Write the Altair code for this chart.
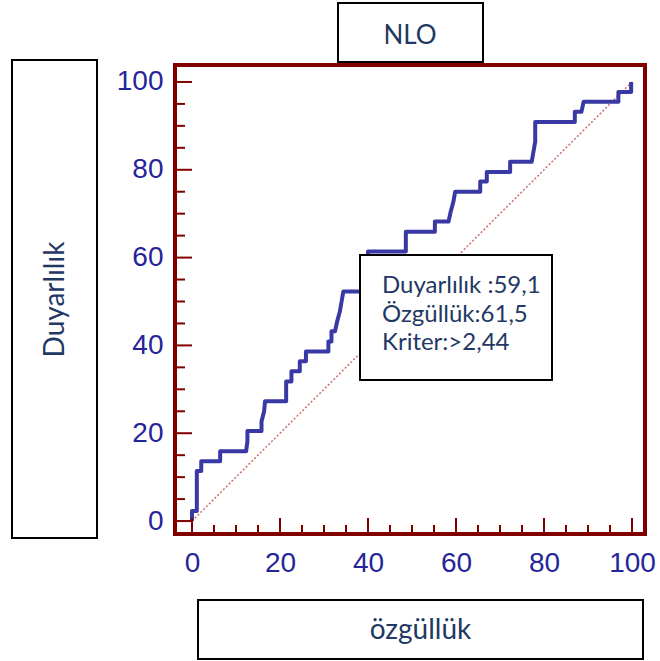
import altair as alt
import pandas as pd

# ROC curve (x = özgüllük axis, y = Duyarlılık)
roc_x = [0, 0, 1.1, 1.1, 2.1, 2.1, 6.4, 6.4, 12.3, 12.6, 12.6, 15.8, 15.8, 16.4, 16.6,
         21.4, 21.4, 22.6, 22.6, 24.5, 24.5, 25.9, 25.9, 31.0, 31.0, 31.7, 31.7, 32.5,
         33.0, 33.6, 34.0, 34.4, 40.0, 40.0, 48.6, 48.6, 55.2, 55.2, 58.3, 58.8, 59.4,
         59.8, 65.5, 65.5, 67.0, 67.0, 72.3, 72.3, 77.2, 77.6, 78.0, 78.0, 87.0, 87.0,
         88.5, 89.0, 96.9, 96.9, 99.8, 99.8]
roc_y = [0, 2.3, 2.3, 11.4, 11.4, 13.6, 13.6, 15.9, 15.9, 18.2, 20.5, 20.5, 22.7, 25.0, 27.3,
         27.3, 31.8, 31.8, 34.1, 34.1, 36.4, 36.4, 38.6, 38.6, 40.9, 40.9, 43.2, 43.2,
         45.5, 47.7, 50.0, 52.3, 52.3, 61.4, 61.4, 65.9, 65.9, 68.2, 68.2, 70.5, 72.7,
         75.0, 75.0, 77.3, 77.3, 79.5, 79.5, 81.8, 81.8, 84.1, 86.4, 90.9, 90.9, 93.2,
         93.2, 95.5, 95.5, 97.7, 97.7, 100]
diag_x = [0, 100]
diag_y = [0, 100]
axis_labels = [0, 20, 40, 60, 80, 100]
minor_ticks = [5, 10, 15, 25, 30, 35, 45, 50, 55, 65, 70, 75, 85, 90, 95]
title_text = "NLO"
x_title = "özgüllük"
y_title = "Duyarlılık"
note_lines = ["Duyarlılık :59,1", "Özgüllük:61,5", "Kriter:>2,44"]

W, H = 470, 469
FRAME = "#800000"
LABEL = "#25259a"
NAVY = "#1f3864"
xs = alt.Scale(domain=[-3.86, 102.95], nice=False, zero=False)
ys = alt.Scale(domain=[-2.95, 103.86], nice=False, zero=False)

roc_df = pd.DataFrame({"x": roc_x, "y": roc_y, "i": list(range(len(roc_x)))})
diag_df = pd.DataFrame({"x": diag_x, "y": diag_y})

x_axis = alt.Axis(values=axis_labels, ticks=False, domain=False, grid=False,
                  labelFont="Liberation Sans", labelFontSize=28, labelColor=LABEL,
                  labelPadding=15, title=x_title, titleFont="Lato", titleFontSize=28,
                  titleFontWeight="normal", titleColor=NAVY, titleX=245, titleY=96,
                  titleAlign="center", titleBaseline="middle", titleAngle=0, zindex=1)
y_axis = alt.Axis(values=axis_labels, ticks=False, domain=False, grid=False,
                  labelFont="Liberation Sans", labelFontSize=28, labelColor=LABEL,
                  labelPadding=12, title=y_title, titleFont="Lato", titleFontSize=28,
                  titleFontWeight="normal", titleColor=NAVY, titleX=-120, titleY=234,
                  titleAlign="center", titleBaseline="middle", titleAngle=270, zindex=1)

X = lambda f: alt.X(f, scale=xs, axis=x_axis)
Y = lambda f: alt.Y(f, scale=ys, axis=y_axis)

diag = alt.Chart(diag_df).mark_line(color="#cc6b6b", strokeDash=[2, 2], strokeWidth=1.5).encode(
    x=X("x:Q"), y=Y("y:Q"))

roc = alt.Chart(roc_df).mark_line(color="#3939a6", strokeWidth=4, strokeJoin="round").encode(
    x=X("x:Q"), y=Y("y:Q"), order="i:Q")

major_df = pd.DataFrame({"x": axis_labels, "y": axis_labels})
minor_df = pd.DataFrame({"x": minor_ticks, "y": minor_ticks})
y_major = alt.Chart(major_df).mark_rule(color=FRAME, strokeWidth=2).encode(
    y=Y("y:Q"), x=alt.value(0), x2=alt.value(17))
y_minor = alt.Chart(minor_df).mark_rule(color=FRAME, strokeWidth=2).encode(
    y=Y("y:Q"), x=alt.value(0), x2=alt.value(10))
x_major = alt.Chart(major_df).mark_rule(color=FRAME, strokeWidth=2).encode(
    x=X("x:Q"), y=alt.value(H), y2=alt.value(H - 16))
x_minor = alt.Chart(minor_df).mark_rule(color=FRAME, strokeWidth=2).encode(
    x=X("x:Q"), y=alt.value(H), y2=alt.value(H - 9))


def box(label, x1, x2, y1, y2, opaque):
    return alt.Chart(pd.DataFrame({"label": [label]})).mark_rect(
        fill="white", fillOpacity=1 if opaque else 0, stroke="black", strokeWidth=2
    ).encode(x=alt.value(x1), x2=alt.value(x2), y=alt.value(y1), y2=alt.value(y2))


note_df = pd.DataFrame({"t": ["\n".join(note_lines)]})
note_box = box("note", 185, 377, 190, 315, True)
note_text = alt.Chart(note_df).mark_text(
    align="left", baseline="middle", font="Lato", fontSize=24, color=NAVY,
    lineBreak="\n", lineHeight=28.5
).encode(text="t:N", x=alt.value(207), y=alt.value(221))

title_df = pd.DataFrame({"t": [title_text]})
title_box = box("title", 163, 308, -62, -3, False)
title_mark = alt.Chart(title_df).mark_text(
    align="center", baseline="middle", font="Lato", fontSize=26, color=NAVY
).encode(text="t:N", x=alt.value(235), y=alt.value(-29))

y_box = box("y", -163, -78, -5, 473, False)
x_box = box("x", 23, 468, 535, 594, False)

chart = alt.layer(
    diag, roc, y_major, y_minor, x_major, x_minor, note_box, note_text,
    title_box, title_mark, y_box, x_box
).properties(
    width=W, height=H,
    autosize=alt.AutoSizeParams(type="none"),
    padding={"left": 175, "top": 65, "right": 15, "bottom": 127},
    background="white",
).configure_view(stroke=FRAME, strokeWidth=4)

chart.save("out.html", embed_options={"renderer": "svg", "actions": False})
